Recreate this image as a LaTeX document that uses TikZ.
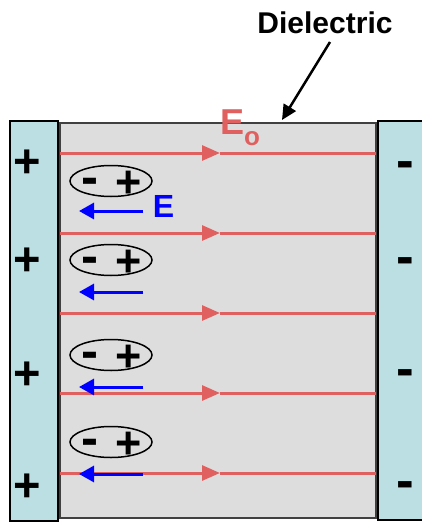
\documentclass[tikz,border=0pt]{standalone}
\usepackage{fontspec}
\setmainfont{Liberation Sans}
\usetikzlibrary{arrows.meta,shapes.geometric}
\definecolor{plate}{HTML}{BBDFE3}
\definecolor{diel}{HTML}{DDDDDD}
\definecolor{fieldred}{HTML}{E06060}
\tikzset{
  platebox/.style={fill=plate, draw=black, line width=2.5pt},
  dielbox/.style={fill=diel, draw=black!75, line width=2pt},
  redline/.style={fieldred, line width=3pt},
  redtip/.style={redline, -{Triangle[length=18pt,width=15pt]}},
  bluearrow/.style={blue, line width=3pt, -{Triangle[length=15pt,width=16pt]}},
  dipole/.style={draw=black, line width=1.5pt, ellipse, minimum width=82pt, minimum height=31pt, inner sep=0pt},
  plussign/.style={font=\fontsize{47}{47}\selectfont\bfseries, inner sep=0pt, anchor=base},
  minussign/.style={font=\fontsize{53}{53}\selectfont\bfseries, inner sep=0pt, anchor=base},
}
\begin{document}
\begin{tikzpicture}[x=1pt,y=-1pt]
\useasboundingbox (0,0) rectangle (422,522);
\clip (0,0) rectangle (422,522);
% plates and dielectric
\draw[dielbox] (60,123) rectangle (376,518);
\draw[platebox] (10,121) rectangle (58,521);
\draw[platebox] (378,121) rectangle (440,520);
% field lines Eo
\foreach \y in {153,233,313,393,473}{
  \coordinate (l\y) at (60,\y);
  \coordinate (m\y) at (220,\y);
  \coordinate (r\y) at (376,\y);
  \draw[redline] (m\y) -- (r\y);
  \draw[redtip] (l\y) -- (m\y);
}
% dipoles
\foreach \y [count=\i] in {181,260,355,442}{
  \node[dipole] (d\i) at (111,\y) {};
  \node[font=\fontsize{51}{51}\selectfont\bfseries, inner sep=0pt, anchor=base] at (90,\y+13) {-};
  \node[font=\fontsize{45}{45}\selectfont\bfseries, inner sep=0pt, anchor=base] at (128.5,\y+16) {+};
}
% polarization field arrows
\foreach \y [count=\i] in {211,292,387,474}{
  \coordinate (bs\i) at (143,\y);
  \coordinate (be\i) at (79,\y);
  \draw[bluearrow] (bs\i) -- (be\i);
}
\node[font=\fontsize{32}{32}\selectfont\bfseries, text=blue, inner sep=0pt, anchor=base west] (E) at (152.7,217) {E};
% Eo label
\node[font=\fontsize{36}{36}\selectfont\bfseries, text=fieldred, inner sep=0pt, anchor=base west] (Eo) at (220,134) {E{\fontsize{26}{26}\selectfont\raisebox{-11pt}{o}}};
% plate charges
\foreach \y [count=\i] in {160,258,372,484}{
  \node[plussign] (p\i) at (27,\y+17) {+};
}
\foreach \y [count=\i] in {164,260,372,484}{
  \node[minussign] (n\i) at (405,\y+14) {-};
}
% dielectric label
\node[font=\fontsize{30}{30}\selectfont\bfseries, inner sep=0pt, anchor=base] (diel) at (325,33) {Dielectric};
\coordinate (dtip) at (282,120);
\draw[line width=2.5pt, -{Triangle[length=15pt,width=14pt]}] (330,42) -- (dtip);
\end{tikzpicture}
\end{document}
